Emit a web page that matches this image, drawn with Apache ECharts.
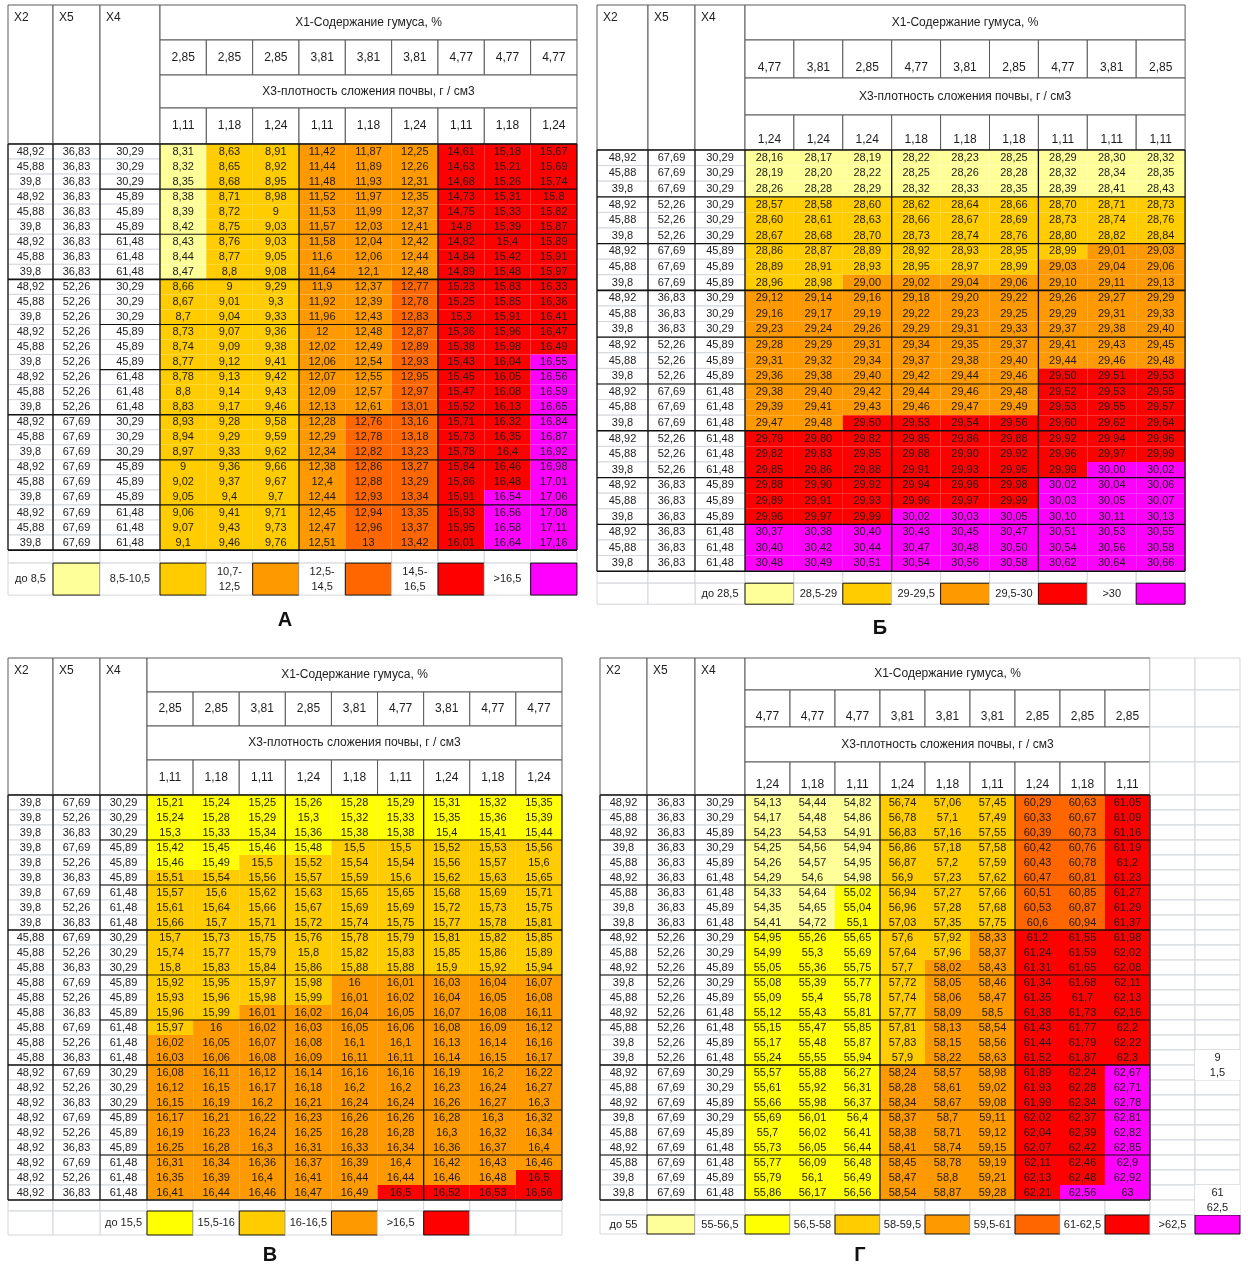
<!DOCTYPE html>
<html><head><meta charset="utf-8">
<script src="https://cdn.jsdelivr.net/npm/echarts@6/dist/echarts.min.js"></script>
<style>html,body{margin:0;padding:0;background:#fff}#c{width:1248px;height:1265px}</style>
</head><body><div id="c"></div><script>
// ---------------- DATA ----------------
const X1_TITLE = 'X1-Содержание гумуса, %';
const X3_TITLE = 'X3-плотность сложения почвы, г / см3';
const FACTOR_NAMES = ['X2', 'X5', 'X4'];
const PANEL_LABELS = ['А', 'Б', 'В', 'Г'];

// Panel А
const A_X1 = ['2,85','2,85','2,85','3,81','3,81','3,81','4,77','4,77','4,77'];
const A_X3 = ['1,11','1,18','1,24','1,11','1,18','1,24','1,11','1,18','1,24'];
const A_X2 = ['48,92','45,88','39,8','48,92','45,88','39,8','48,92','45,88','39,8','48,92','45,88','39,8','48,92','45,88','39,8','48,92','45,88','39,8','48,92','45,88','39,8','48,92','45,88','39,8','48,92','45,88','39,8'];
const A_X5 = ['36,83','36,83','36,83','36,83','36,83','36,83','36,83','36,83','36,83','52,26','52,26','52,26','52,26','52,26','52,26','52,26','52,26','52,26','67,69','67,69','67,69','67,69','67,69','67,69','67,69','67,69','67,69'];
const A_X4 = ['30,29','30,29','30,29','45,89','45,89','45,89','61,48','61,48','61,48','30,29','30,29','30,29','45,89','45,89','45,89','61,48','61,48','61,48','30,29','30,29','30,29','45,89','45,89','45,89','61,48','61,48','61,48'];
const A_VALUES = [
 [8.31,8.63,8.91,11.42,11.87,12.25,14.61,15.18,15.67],
 [8.32,8.65,8.92,11.44,11.89,12.26,14.63,15.21,15.69],
 [8.35,8.68,8.95,11.48,11.93,12.31,14.68,15.26,15.74],
 [8.38,8.71,8.98,11.52,11.97,12.35,14.73,15.31,15.8],
 [8.39,8.72,9,11.53,11.99,12.37,14.75,15.33,15.82],
 [8.42,8.75,9.03,11.57,12.03,12.41,14.8,15.39,15.87],
 [8.43,8.76,9.03,11.58,12.04,12.42,14.82,15.4,15.89],
 [8.44,8.77,9.05,11.6,12.06,12.44,14.84,15.42,15.91],
 [8.47,8.8,9.08,11.64,12.1,12.48,14.89,15.48,15.97],
 [8.66,9,9.29,11.9,12.37,12.77,15.23,15.83,16.33],
 [8.67,9.01,9.3,11.92,12.39,12.78,15.25,15.85,16.36],
 [8.7,9.04,9.33,11.96,12.43,12.83,15.3,15.91,16.41],
 [8.73,9.07,9.36,12,12.48,12.87,15.36,15.96,16.47],
 [8.74,9.09,9.38,12.02,12.49,12.89,15.38,15.98,16.49],
 [8.77,9.12,9.41,12.06,12.54,12.93,15.43,16.04,16.55],
 [8.78,9.13,9.42,12.07,12.55,12.95,15.45,16.05,16.56],
 [8.8,9.14,9.43,12.09,12.57,12.97,15.47,16.08,16.59],
 [8.83,9.17,9.46,12.13,12.61,13.01,15.52,16.13,16.65],
 [8.93,9.28,9.58,12.28,12.76,13.16,15.71,16.32,16.84],
 [8.94,9.29,9.59,12.29,12.78,13.18,15.73,16.35,16.87],
 [8.97,9.33,9.62,12.34,12.82,13.23,15.78,16.4,16.92],
 [9,9.36,9.66,12.38,12.86,13.27,15.84,16.46,16.98],
 [9.02,9.37,9.67,12.4,12.88,13.29,15.86,16.48,17.01],
 [9.05,9.4,9.7,12.44,12.93,13.34,15.91,16.54,17.06],
 [9.06,9.41,9.71,12.45,12.94,13.35,15.93,16.56,17.08],
 [9.07,9.43,9.73,12.47,12.96,13.37,15.95,16.58,17.11],
 [9.1,9.46,9.76,12.51,13,13.42,16.01,16.64,17.16]
];
const A_CLASS = ['011222444','011222444','011222444','011222444','011222444','011222444','011222444','011222444','011222444',
 '111223444','111223444','111223444','111223444','111223444','111223445','111223445','111223445','111223445',
 '111233445','111233445','111233445','111233445','111233445','111233455','111233455','111233455','111233455'];
const A_LEGEND = ['до 8,5','8,5-10,5','10,7-\n12,5','12,5-\n14,5','14,5-\n16,5','>16,5'];

// Panel Б
const B_X1 = ['4,77','3,81','2,85','4,77','3,81','2,85','4,77','3,81','2,85'];
const B_X3 = ['1,24','1,24','1,24','1,18','1,18','1,18','1,11','1,11','1,11'];
const B_X2 = ['48,92','45,88','39,8','48,92','45,88','39,8','48,92','45,88','39,8','48,92','45,88','39,8','48,92','45,88','39,8','48,92','45,88','39,8','48,92','45,88','39,8','48,92','45,88','39,8','48,92','45,88','39,8'];
const B_X5 = ['67,69','67,69','67,69','52,26','52,26','52,26','67,69','67,69','67,69','36,83','36,83','36,83','52,26','52,26','52,26','67,69','67,69','67,69','52,26','52,26','52,26','36,83','36,83','36,83','36,83','36,83','36,83'];
const B_X4 = ['30,29','30,29','30,29','30,29','30,29','30,29','45,89','45,89','45,89','30,29','30,29','30,29','45,89','45,89','45,89','61,48','61,48','61,48','61,48','61,48','61,48','45,89','45,89','45,89','61,48','61,48','61,48'];
const B_VALUES = [
 [28.16,28.17,28.19,28.22,28.23,28.25,28.29,28.30,28.32],
 [28.19,28.20,28.22,28.25,28.26,28.28,28.32,28.34,28.35],
 [28.26,28.28,28.29,28.32,28.33,28.35,28.39,28.41,28.43],
 [28.57,28.58,28.60,28.62,28.64,28.66,28.70,28.71,28.73],
 [28.60,28.61,28.63,28.66,28.67,28.69,28.73,28.74,28.76],
 [28.67,28.68,28.70,28.73,28.74,28.76,28.80,28.82,28.84],
 [28.86,28.87,28.89,28.92,28.93,28.95,28.99,29.01,29.03],
 [28.89,28.91,28.93,28.95,28.97,28.99,29.03,29.04,29.06],
 [28.96,28.98,29.00,29.02,29.04,29.06,29.10,29.11,29.13],
 [29.12,29.14,29.16,29.18,29.20,29.22,29.26,29.27,29.29],
 [29.16,29.17,29.19,29.22,29.23,29.25,29.29,29.31,29.33],
 [29.23,29.24,29.26,29.29,29.31,29.33,29.37,29.38,29.40],
 [29.28,29.29,29.31,29.34,29.35,29.37,29.41,29.43,29.45],
 [29.31,29.32,29.34,29.37,29.38,29.40,29.44,29.46,29.48],
 [29.36,29.38,29.40,29.42,29.44,29.46,29.50,29.51,29.53],
 [29.38,29.40,29.42,29.44,29.46,29.48,29.52,29.53,29.55],
 [29.39,29.41,29.43,29.46,29.47,29.49,29.53,29.55,29.57],
 [29.47,29.48,29.50,29.53,29.54,29.56,29.60,29.62,29.64],
 [29.79,29.80,29.82,29.85,29.86,29.88,29.92,29.94,29.96],
 [29.82,29.83,29.85,29.88,29.90,29.92,29.96,29.97,29.99],
 [29.85,29.86,29.88,29.91,29.93,29.95,29.99,30.00,30.02],
 [29.88,29.90,29.92,29.94,29.96,29.98,30.02,30.04,30.06],
 [29.89,29.91,29.93,29.96,29.97,29.99,30.03,30.05,30.07],
 [29.96,29.97,29.99,30.02,30.03,30.05,30.10,30.11,30.13],
 [30.37,30.38,30.40,30.43,30.45,30.47,30.51,30.53,30.55],
 [30.40,30.42,30.44,30.47,30.48,30.50,30.54,30.56,30.58],
 [30.48,30.49,30.51,30.54,30.56,30.58,30.62,30.64,30.66]
];
const B_CLASS = ['000000000','000000000','000000000','111111111','111111111','111111111','111111122','111111222','112222222',
 '222222222','222222222','222222222','222222222','222222222','222222333','222222333','222222333','223333333',
 '333333333','333333333','333333344','333333444','333333444','333444444','444444444','444444444','444444444'];
const B_LEGEND = ['до 28,5','28,5-29','29-29,5','29,5-30','>30'];

// Panel В
const V_X1 = ['2,85','2,85','3,81','2,85','3,81','4,77','3,81','4,77','4,77'];
const V_X3 = ['1,11','1,18','1,11','1,24','1,18','1,11','1,24','1,18','1,24'];
const V_X2 = ['39,8','39,8','39,8','39,8','39,8','39,8','39,8','39,8','39,8','45,88','45,88','45,88','45,88','45,88','45,88','45,88','45,88','45,88','48,92','48,92','48,92','48,92','48,92','48,92','48,92','48,92','48,92'];
const V_X5 = ['67,69','52,26','36,83','67,69','52,26','36,83','67,69','52,26','36,83','67,69','52,26','36,83','67,69','52,26','36,83','67,69','52,26','36,83','67,69','52,26','36,83','67,69','52,26','36,83','67,69','52,26','36,83'];
const V_X4 = ['30,29','30,29','30,29','45,89','45,89','45,89','61,48','61,48','61,48','30,29','30,29','30,29','45,89','45,89','45,89','61,48','61,48','61,48','30,29','30,29','30,29','45,89','45,89','45,89','61,48','61,48','61,48'];
const V_VALUES = [
 [15.21,15.24,15.25,15.26,15.28,15.29,15.31,15.32,15.35],
 [15.24,15.28,15.29,15.3,15.32,15.33,15.35,15.36,15.39],
 [15.3,15.33,15.34,15.36,15.38,15.38,15.4,15.41,15.44],
 [15.42,15.45,15.46,15.48,15.5,15.5,15.52,15.53,15.56],
 [15.46,15.49,15.5,15.52,15.54,15.54,15.56,15.57,15.6],
 [15.51,15.54,15.56,15.57,15.59,15.6,15.62,15.63,15.65],
 [15.57,15.6,15.62,15.63,15.65,15.65,15.68,15.69,15.71],
 [15.61,15.64,15.66,15.67,15.69,15.69,15.72,15.73,15.75],
 [15.66,15.7,15.71,15.72,15.74,15.75,15.77,15.78,15.81],
 [15.7,15.73,15.75,15.76,15.78,15.79,15.81,15.82,15.85],
 [15.74,15.77,15.79,15.8,15.82,15.83,15.85,15.86,15.89],
 [15.8,15.83,15.84,15.86,15.88,15.88,15.9,15.92,15.94],
 [15.92,15.95,15.97,15.98,16,16.01,16.03,16.04,16.07],
 [15.93,15.96,15.98,15.99,16.01,16.02,16.04,16.05,16.08],
 [15.96,15.99,16.01,16.02,16.04,16.05,16.07,16.08,16.11],
 [15.97,16,16.02,16.03,16.05,16.06,16.08,16.09,16.12],
 [16.02,16.05,16.07,16.08,16.1,16.1,16.13,16.14,16.16],
 [16.03,16.06,16.08,16.09,16.11,16.11,16.14,16.15,16.17],
 [16.08,16.11,16.12,16.14,16.16,16.16,16.19,16.2,16.22],
 [16.12,16.15,16.17,16.18,16.2,16.2,16.23,16.24,16.27],
 [16.15,16.19,16.2,16.21,16.24,16.24,16.26,16.27,16.3],
 [16.17,16.21,16.22,16.23,16.26,16.26,16.28,16.3,16.32],
 [16.19,16.23,16.24,16.25,16.28,16.28,16.3,16.32,16.34],
 [16.25,16.28,16.3,16.31,16.33,16.34,16.36,16.37,16.4],
 [16.31,16.34,16.36,16.37,16.39,16.4,16.42,16.43,16.46],
 [16.35,16.39,16.4,16.41,16.44,16.44,16.46,16.48,16.5],
 [16.41,16.44,16.46,16.47,16.49,16.5,16.52,16.53,16.56]
];
const V_CLASS = ['000000000','000000000','000000000','000011111','001111111','111111111','111111111','111111111','111111111',
 '111111111','111111111','111111111','111122222','111122222','112222222','122222222','222222222','222222222',
 '222222222','222222222','222222222','222222222','222222222','222222222','222222222','222222223','222223333'];
const V_LEGEND = ['до 15,5','15,5-16','16-16,5','>16,5'];

// Panel Г
const G_X1 = ['4,77','4,77','4,77','3,81','3,81','3,81','2,85','2,85','2,85'];
const G_X3 = ['1,24','1,18','1,11','1,24','1,18','1,11','1,24','1,18','1,11'];
const G_X2 = ['48,92','45,88','48,92','39,8','45,88','48,92','45,88','39,8','39,8','48,92','45,88','48,92','39,8','45,88','48,92','45,88','39,8','39,8','48,92','45,88','48,92','39,8','45,88','48,92','45,88','39,8','39,8'];
const G_X5 = ['36,83','36,83','36,83','36,83','36,83','36,83','36,83','36,83','36,83','52,26','52,26','52,26','52,26','52,26','52,26','52,26','52,26','52,26','67,69','67,69','67,69','67,69','67,69','67,69','67,69','67,69','67,69'];
const G_X4 = ['30,29','30,29','45,89','30,29','45,89','61,48','61,48','45,89','61,48','30,29','30,29','45,89','30,29','45,89','61,48','61,48','45,89','61,48','30,29','30,29','45,89','30,29','45,89','61,48','61,48','45,89','61,48'];
const G_VALUES = [
 [54.13,54.44,54.82,56.74,57.06,57.45,60.29,60.63,61.05],
 [54.17,54.48,54.86,56.78,57.1,57.49,60.33,60.67,61.09],
 [54.23,54.53,54.91,56.83,57.16,57.55,60.39,60.73,61.16],
 [54.25,54.56,54.94,56.86,57.18,57.58,60.42,60.76,61.19],
 [54.26,54.57,54.95,56.87,57.2,57.59,60.43,60.78,61.2],
 [54.29,54.6,54.98,56.9,57.23,57.62,60.47,60.81,61.23],
 [54.33,54.64,55.02,56.94,57.27,57.66,60.51,60.85,61.27],
 [54.35,54.65,55.04,56.96,57.28,57.68,60.53,60.87,61.29],
 [54.41,54.72,55.1,57.03,57.35,57.75,60.6,60.94,61.37],
 [54.95,55.26,55.65,57.6,57.92,58.33,61.2,61.55,61.98],
 [54.99,55.3,55.69,57.64,57.96,58.37,61.24,61.59,62.02],
 [55.05,55.36,55.75,57.7,58.02,58.43,61.31,61.65,62.08],
 [55.08,55.39,55.77,57.72,58.05,58.46,61.34,61.68,62.11],
 [55.09,55.4,55.78,57.74,58.06,58.47,61.35,61.7,62.13],
 [55.12,55.43,55.81,57.77,58.09,58.5,61.38,61.73,62.16],
 [55.15,55.47,55.85,57.81,58.13,58.54,61.43,61.77,62.2],
 [55.17,55.48,55.87,57.83,58.15,58.56,61.44,61.79,62.22],
 [55.24,55.55,55.94,57.9,58.22,58.63,61.52,61.87,62.3],
 [55.57,55.88,56.27,58.24,58.57,58.98,61.89,62.24,62.67],
 [55.61,55.92,56.31,58.28,58.61,59.02,61.93,62.28,62.71],
 [55.66,55.98,56.37,58.34,58.67,59.08,61.99,62.34,62.78],
 [55.69,56.01,56.4,58.37,58.7,59.11,62.02,62.37,62.81],
 [55.7,56.02,56.41,58.38,58.71,59.12,62.04,62.39,62.82],
 [55.73,56.05,56.44,58.41,58.74,59.15,62.07,62.42,62.85],
 [55.77,56.09,56.48,58.45,58.78,59.19,62.11,62.46,62.9],
 [55.79,56.1,56.49,58.47,58.8,59.21,62.13,62.48,62.92],
 [55.86,56.17,56.56,58.54,58.87,59.28,62.21,62.56,63]
];
const G_CLASS = ['000222445','000222445','000222445','000222445','000222445','000222445','001222445','001222445','001222445',
 '111223555','111223555','111233555','111233555','111233555','111233555','111233555','111233555','111233555',
 '111333556','111333556','111333556','111333556','111333556','111333556','111333556','111333556','111333566'];
const G_LEGEND = ['до 55','55-56,5','56,5-58','58-59,5','59,5-61','61-62,5','>62,5'];
// stray spreadsheet cells to the right of table Г: [row index (27 = row under table), text]
const G_EXTRA = [[17,'9'],[18,'1,5'],[26,'61'],[27,'62,5']];

// ---------------- LAYOUT / STYLE ----------------
const FONT = '"Liberation Sans", Arial, sans-serif';
const GRIDLINE = '#d3d6db';
const HDR_STROKE = '#5a5a5a';
const TXT = '#1c1c1c';
const rep = (v, n) => Array(n).fill(v);
const PANELS = [
 {data:{x1:A_X1,x3:A_X3,x2:A_X2,x5:A_X5,x4:A_X4,vals:A_VALUES,cls:A_CLASS,legend:A_LEGEND,extra:[]},
  L:{left:8, top:5, colW:[45,47,60].concat(rep(46.33,9)), hdrH:[35,35,33,36], rowH:15.04, gapH:13, legH:32, legStart:0,
     hdrValign:'middle', fullRule:false, dec:null, label:[285,620],
     palette:['#FFFF99','#FFCC00','#FF9900','#FF6600','#FF0000','#FF00FF']}},
 {data:{x1:B_X1,x3:B_X3,x2:B_X2,x5:B_X5,x4:B_X4,vals:B_VALUES,cls:B_CLASS,legend:B_LEGEND,extra:[]},
  L:{left:597, top:5, colW:[51,47,50].concat(rep(48.9,9)), hdrH:[35,38,37,35], rowH:15.6, gapH:12, legH:21, legStart:2,
     hdrValign:'bottom', fullRule:true, dec:2, label:[880,628],
     palette:['#FFFF99','#FFCC00','#FF9900','#FF0000','#FF00FF']}},
 {data:{x1:V_X1,x3:V_X3,x2:V_X2,x5:V_X5,x4:V_X4,vals:V_VALUES,cls:V_CLASS,legend:V_LEGEND,extra:[]},
  L:{left:8, top:658, colW:[45,47,47].concat(rep(46.11,9)), hdrH:[34,34,34,35], rowH:15, gapH:11, legH:24, legStart:2,
     hdrValign:'middle', fullRule:false, dec:null, label:[270,1255],
     palette:['#FFFF00','#FFCC00','#FF9900','#FF0000']}},
 {data:{x1:G_X1,x3:G_X3,x2:G_X2,x5:G_X5,x4:G_X4,vals:G_VALUES,cls:G_CLASS,legend:G_LEGEND,extra:G_EXTRA},
  L:{left:600, top:658, colW:[47,48,50].concat(rep(45,11)), hdrH:[32,37,35,33], rowH:15, gapH:15, legH:19, legStart:0,
     hdrValign:'bottom', fullRule:true, dec:null, label:[860,1255],
     palette:['#FFFF99','#FFFF00','#FFCC00','#FF9900','#FF6600','#FF0000','#FF00FF']}}
];

function fmt(v, dec) { return (dec == null ? String(v) : v.toFixed(dec)).replace('.', ','); }

function buildPanel(d, L) {
  const colE = [0]; L.colW.forEach(w => colE.push(colE[colE.length - 1] + w));
  const nR = d.vals.length, nH = L.hdrH.length, D0 = nH, GAP = D0 + nR, LEG = GAP + 1;
  const rowH = L.hdrH.concat(rep(L.rowH, nR), [L.gapH, L.legH]);
  const rowE = [0]; rowH.forEach(h => rowE.push(rowE[rowE.length - 1] + h));
  const nC = L.colW.length;
  const cells = [], meta = [], lines = [];
  const cell = (c0, c1, r0, r1, m) => { cells.push([colE[c0], rowE[r0], colE[c1], rowE[r1]]); meta.push(m); };
  // header
  FACTOR_NAMES.forEach((n, i) => cell(i, i + 1, 0, nH, {text:n, stroke:HDR_STROKE, align:'left', valign:'top', size:12}));
  cell(3, 12, 0, 1, {text:X1_TITLE, stroke:HDR_STROKE, size:12});
  d.x1.forEach((t, j) => cell(3 + j, 4 + j, 1, 2, {text:t, stroke:HDR_STROKE, valign:L.hdrValign, size:12}));
  cell(3, 12, 2, 3, {text:X3_TITLE, stroke:HDR_STROKE, size:12});
  d.x3.forEach((t, j) => cell(3 + j, 4 + j, 3, 4, {text:t, stroke:HDR_STROKE, valign:L.hdrValign, size:12}));
  for (let c = 12; c < nC; c++) for (let r = 0; r < nH; r++) cell(c, c + 1, r, r + 1, {stroke:GRIDLINE});
  // data rows
  for (let r = 0; r < nR; r++) {
    const R = D0 + r;
    [d.x2[r], d.x5[r], d.x4[r]].forEach((t, i) => cell(i, i + 1, R, R + 1, {text:t, stroke:GRIDLINE}));
    d.vals[r].forEach((v, j) => cell(3 + j, 4 + j, R, R + 1, {text:fmt(v, L.dec), fill:L.palette[+d.cls[r][j]]}));
    for (let c = 12; c < nC; c++) cell(c, c + 1, R, R + 1, {stroke:GRIDLINE});
  }
  // gap row
  for (let c = 0; c < nC; c++) cell(c, c + 1, GAP, GAP + 1, {stroke:GRIDLINE});
  // legend row
  const used = {};
  d.legend.forEach((t, k) => {
    const c = L.legStart + 2 * k;
    used[c] = used[c + 1] = true;
    cell(c, c + 1, LEG, LEG + 1, {text:t, stroke:GRIDLINE, lh:15});
    cell(c + 1, c + 2, LEG, LEG + 1, {fill:L.palette[k], stroke:'#111'});
  });
  for (let c = 0; c < nC; c++) if (!used[c]) cell(c, c + 1, LEG, LEG + 1, {stroke:GRIDLINE});
  // stray cells
  d.extra.forEach(([r, t]) => cell(nC - 1, nC, D0 + r, D0 + r + 1, {text:t}));
  // dark rules of the data block
  const yTop = rowE[D0], yBot = rowE[GAP];
  [0, 1, 2, 3, 6, 9, 12].forEach(c => lines.push([colE[c], yTop, colE[c], yBot, 1.3]));
  for (let r = 0; r <= nR; r += 3) {
    const full = L.fullRule || r % 9 === 0;
    lines.push([colE[full ? 0 : 2], rowE[D0 + r], colE[12], rowE[D0 + r], (r % 9 === 0) ? 1.6 : 1.2]);
  }
  return {cells, meta, lines, W:colE[nC], H:rowE[rowE.length - 1]};
}

const grids = [], xAxes = [], yAxes = [], series = [], graphics = [];
PANELS.forEach((P, i) => {
  const b = buildPanel(P.data, P.L);
  grids.push({left:P.L.left, top:P.L.top, width:b.W, height:b.H, outerBoundsMode:'none', containLabel:false});
  xAxes.push({type:'value', gridIndex:i, min:0, max:b.W, show:false});
  yAxes.push({type:'value', gridIndex:i, min:0, max:b.H, inverse:true, show:false});
  const meta = b.meta;
  series.push({
    type:'custom', coordinateSystem:'cartesian2d', xAxisIndex:i, yAxisIndex:i, silent:true, animation:false, clip:false, z:1,
    data:b.cells,
    renderItem(params, api) {
      const m = meta[params.dataIndex];
      const p0 = api.coord([api.value(0), api.value(1)]);
      const p1 = api.coord([api.value(2), api.value(3)]);
      const x = p0[0], y = p0[1], w = p1[0] - p0[0], h = p1[1] - p0[1];
      const ch = [{type:'rect', shape:{x, y, width:w, height:h},
        style:{fill:m.fill || '#ffffff', stroke:m.stroke || null, lineWidth:1}}];
      if (m.text) {
        const al = m.align || 'center', va = m.valign || 'middle';
        ch.push({type:'text', style:{
          text:m.text,
          x: al === 'left' ? x + 6 : x + w / 2,
          y: va === 'top' ? y + 6 : va === 'bottom' ? y + h - 3 : y + h / 2,
          align:al, verticalAlign:va, fill:TXT,
          font:(m.size || 11) + 'px ' + FONT, lineHeight:m.lh || 14}});
      }
      return {type:'group', children:ch};
    }
  });
  series.push({
    type:'custom', coordinateSystem:'cartesian2d', xAxisIndex:i, yAxisIndex:i, silent:true, animation:false, clip:false, z:2,
    data:b.lines,
    renderItem(params, api) {
      const p0 = api.coord([api.value(0), api.value(1)]);
      const p1 = api.coord([api.value(2), api.value(3)]);
      return {type:'line', shape:{x1:p0[0], y1:p0[1], x2:p1[0], y2:p1[1]},
        style:{stroke:'#111', lineWidth:api.value(4)}};
    }
  });
  graphics.push({type:'text', x:P.L.label[0], y:P.L.label[1],
    style:{text:PANEL_LABELS[i], font:'bold 20px ' + FONT, fill:'#111', align:'center', verticalAlign:'middle',
           textAlign:'center', textVerticalAlign:'middle'}});
});

const chart = echarts.init(document.getElementById('c'), null, {renderer:'canvas'});
chart.setOption({
  animation:false, backgroundColor:'#ffffff',
  grid:grids, xAxis:xAxes, yAxis:yAxes, series, graphic:graphics
});
</script></body></html>
